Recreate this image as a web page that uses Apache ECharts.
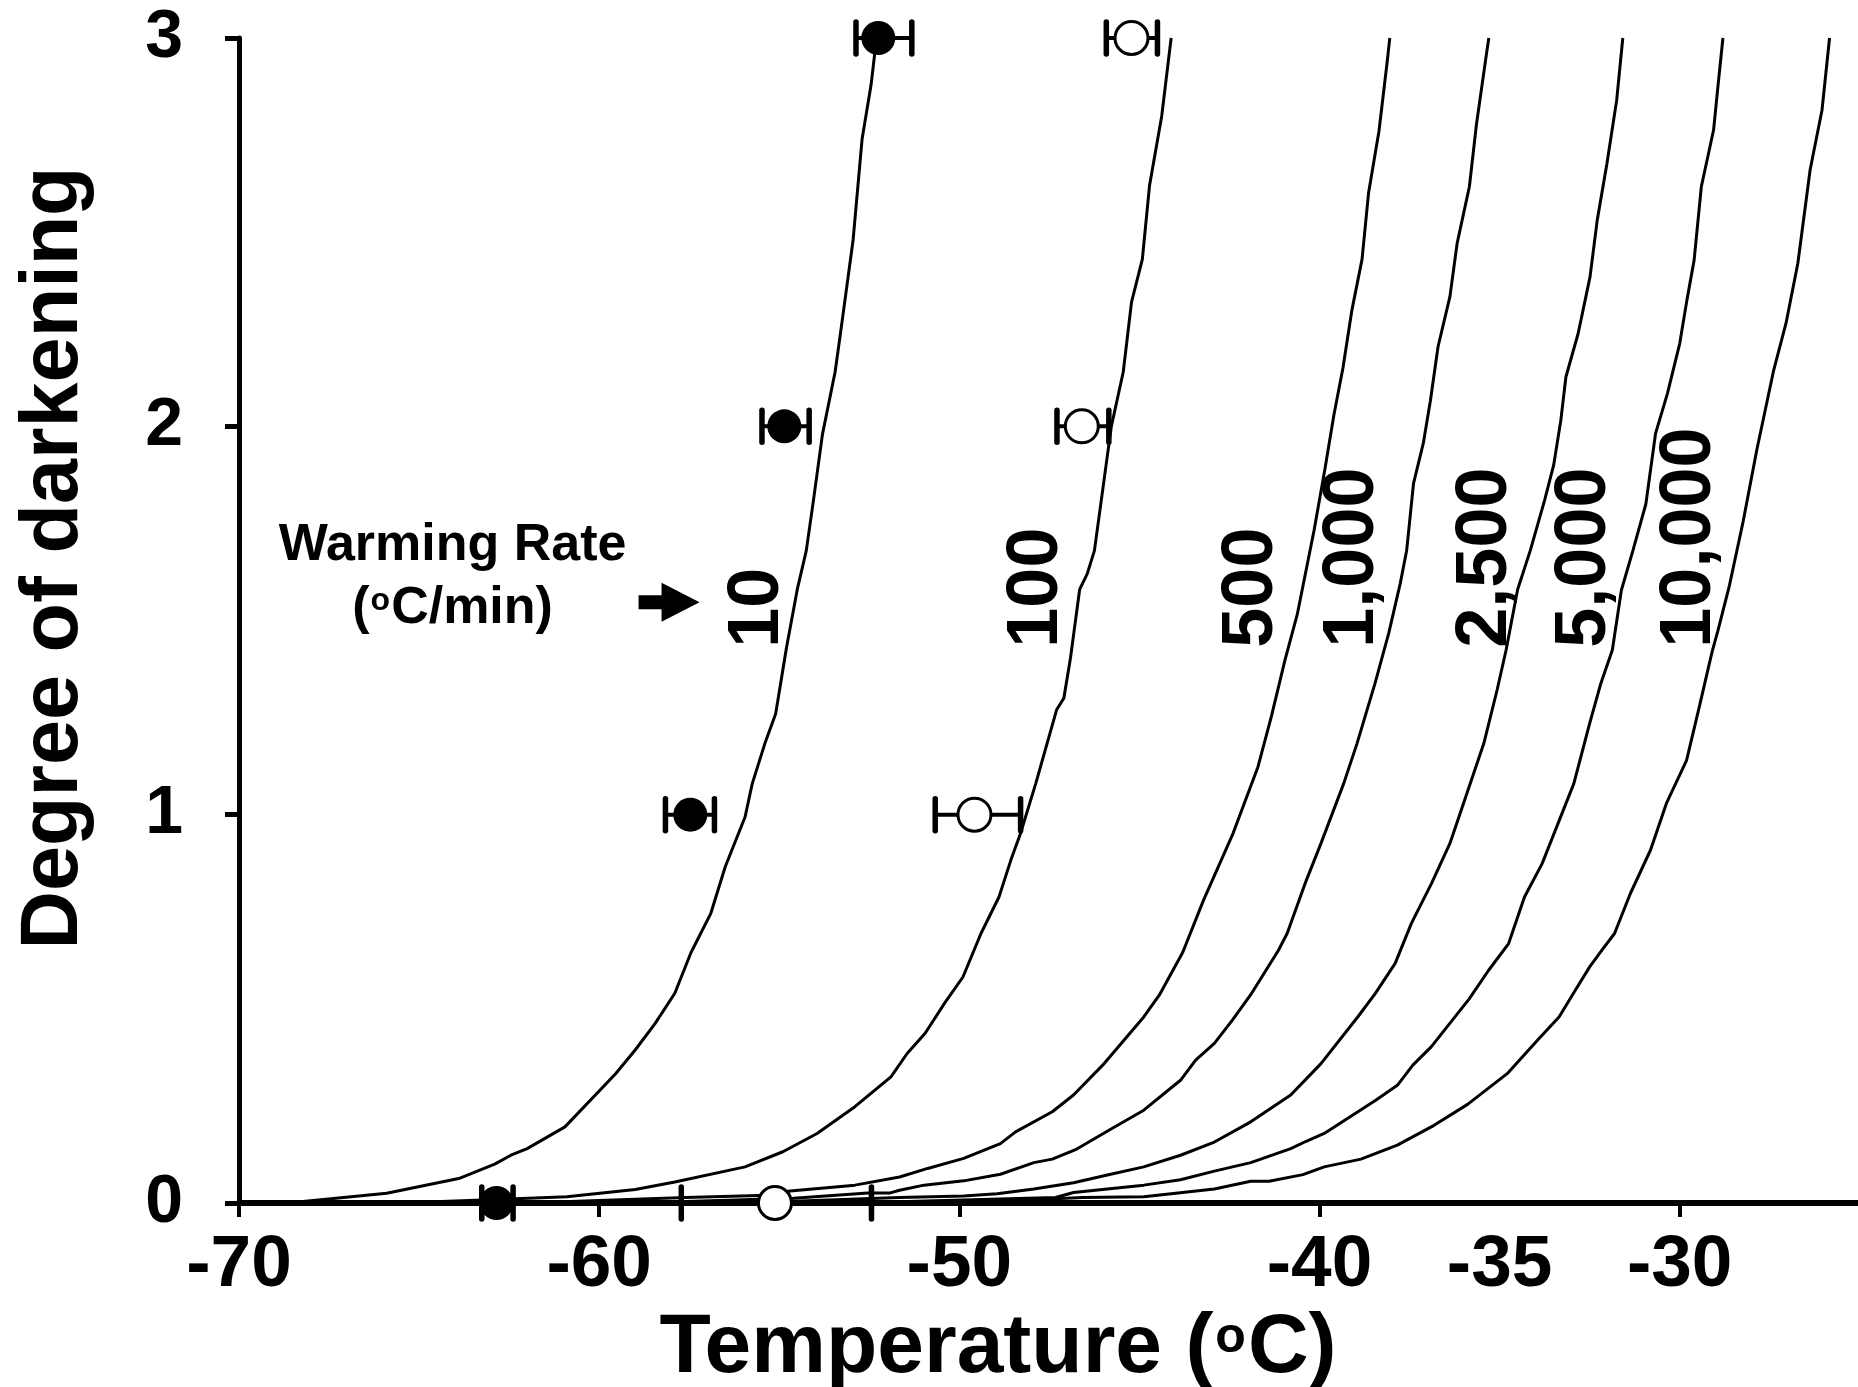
<!DOCTYPE html>
<html>
<head>
<meta charset="utf-8">
<script src="https://cdn.jsdelivr.net/npm/echarts@6/dist/echarts.min.js"></script>
<style>
  html, body { margin: 0; padding: 0; background: #fff; }
  #chart { width: 1858px; height: 1387px; }
</style>
</head>
<body>
<div id="chart"></div>
<script>
// warming rates (oC/min), one curve each
var rates = ['10', '100', '500', '1,000', '2,500', '5,000', '10,000'];

// modelled darkening curves, [temperature, degree]
var curve10 = [[-68.65,0],[-65.9,0.025],[-63.9,0.063],[-62.9,0.1],[-62.45,0.123],[-62.0,0.14],[-60.95,0.196],[-59.55,0.332],[-59.0,0.394],[-58.45,0.462],[-57.9,0.54],[-57.45,0.645],[-56.9,0.746],[-56.5,0.866],[-55.95,0.994],[-55.75,1.08],[-55.4,1.183],[-55.1,1.26],[-54.8,1.43],[-54.5,1.58],[-54.25,1.68],[-54.05,1.81],[-53.8,1.98],[-53.45,2.14],[-53.3,2.24],[-52.95,2.48],[-52.7,2.74],[-52.45,2.88],[-52.3,3.0]];
var curve100 = [[-65.5,0],[-62.5,0.01],[-60.9,0.016],[-59.0,0.035],[-57.9,0.054],[-55.95,0.093],[-54.9,0.132],[-53.95,0.179],[-52.9,0.248],[-51.9,0.325],[-51.45,0.385],[-50.95,0.437],[-50.4,0.516],[-49.9,0.582],[-49.4,0.694],[-48.9,0.788],[-48.57,0.883],[-48.3,0.952],[-47.88,1.08],[-47.3,1.27],[-47.1,1.3],[-46.92,1.4],[-46.66,1.58],[-46.45,1.62],[-46.25,1.68],[-46.0,1.85],[-45.78,2.0],[-45.45,2.14],[-45.22,2.32],[-44.92,2.43],[-44.72,2.62],[-44.38,2.8],[-44.12,3.0]];
var curve500 = [[-62,0],[-57.6,0.014],[-55.3,0.02],[-54.7,0.031],[-52.9,0.046],[-51.66,0.067],[-50.88,0.089],[-49.88,0.115],[-48.86,0.153],[-48.44,0.183],[-47.42,0.235],[-46.83,0.278],[-45.98,0.359],[-44.88,0.479],[-44.45,0.535],[-43.8,0.645],[-43.22,0.78],[-42.4,0.952],[-42.02,1.046],[-41.71,1.123],[-41.34,1.252],[-40.96,1.398],[-40.62,1.515],[-40.15,1.733],[-39.85,1.89],[-39.6,2.03],[-39.35,2.15],[-39.1,2.3],[-38.82,2.43],[-38.64,2.6],[-38.35,2.76],[-38.12,2.94],[-38.05,3.0]];
var curve1000 = [[-59,0],[-54.6,0.012],[-52.54,0.026],[-51.92,0.026],[-51.66,0.033],[-50.98,0.046],[-49.88,0.057],[-48.86,0.074],[-47.93,0.104],[-47.42,0.113],[-46.74,0.139],[-45.8,0.19],[-44.88,0.239],[-43.86,0.316],[-43.44,0.368],[-42.92,0.411],[-42.42,0.471],[-41.92,0.535],[-41.14,0.651],[-40.9,0.694],[-40.4,0.823],[-39.96,0.926],[-39.33,1.08],[-38.96,1.183],[-38.46,1.338],[-38.08,1.467],[-37.76,1.595],[-37.58,1.681],[-37.39,1.853],[-37.12,1.956],[-36.92,2.067],[-36.71,2.205],[-36.38,2.334],[-36.18,2.471],[-35.84,2.617],[-35.64,2.78],[-35.37,2.956],[-35.3,3.0]];
var curve2500 = [[-56,0],[-51.66,0.014],[-49.88,0.018],[-48.95,0.024],[-47.93,0.036],[-46.83,0.052],[-45.89,0.072],[-44.88,0.093],[-43.86,0.123],[-42.92,0.157],[-41.91,0.209],[-40.8,0.278],[-39.96,0.359],[-38.94,0.479],[-38.45,0.54],[-37.9,0.617],[-37.45,0.72],[-36.89,0.823],[-36.38,0.926],[-35.94,1.046],[-35.44,1.183],[-35.07,1.321],[-34.82,1.424],[-34.5,1.58],[-34.15,1.68],[-33.75,1.81],[-33.5,1.9],[-33.3,2.016],[-33.16,2.127],[-32.82,2.239],[-32.49,2.385],[-32.29,2.531],[-32.02,2.677],[-31.75,2.84],[-31.58,3.0]];
var curve5000 = [[-53,0],[-47.33,0.014],[-46.83,0.027],[-44.88,0.046],[-43.86,0.06],[-42.92,0.082],[-41.91,0.104],[-40.8,0.14],[-40.37,0.159],[-39.87,0.179],[-38.43,0.265],[-37.84,0.303],[-37.41,0.355],[-36.9,0.402],[-35.85,0.525],[-35.3,0.6],[-34.75,0.668],[-34.31,0.788],[-33.82,0.874],[-33.38,0.977],[-32.94,1.08],[-32.5,1.235],[-32.19,1.338],[-31.87,1.424],[-31.62,1.578],[-31.3,1.68],[-30.94,1.8],[-30.67,1.982],[-30.34,2.085],[-30.0,2.213],[-29.8,2.325],[-29.6,2.428],[-29.4,2.617],[-29.06,2.763],[-28.93,2.883],[-28.8,3.0]];
var curve10000 = [[-50,0],[-46.57,0.014],[-44.88,0.016],[-42.92,0.036],[-41.91,0.056],[-41.4,0.056],[-40.46,0.073],[-39.87,0.093],[-38.85,0.113],[-37.84,0.149],[-36.82,0.2],[-35.89,0.254],[-34.79,0.333],[-33.95,0.419],[-33.35,0.479],[-32.95,0.54],[-32.5,0.608],[-32.16,0.651],[-31.81,0.694],[-31.37,0.797],[-30.81,0.909],[-30.37,1.029],[-29.81,1.14],[-29.45,1.28],[-29.1,1.42],[-28.95,1.47],[-28.62,1.59],[-28.25,1.75],[-27.86,1.939],[-27.39,2.145],[-27.05,2.265],[-26.72,2.42],[-26.38,2.66],[-26.05,2.814],[-25.84,3.0]];
var curves = [curve10, curve100, curve500, curve1000, curve2500, curve5000, curve10000];

// measured points (filled = 10 oC/min, open = 100 oC/min) with horizontal error bars
var degrees = [0, 1, 2, 3];
var filledTemp = [-62.85, -57.47, -54.86, -52.25];
var filledLow = [-63.26, -58.16, -55.48, -52.87];
var filledHigh = [-62.39, -56.8, -54.17, -51.32];
var openTemp = [-55.12, -49.58, -46.6, -45.22];
var openLow = [-57.72, -50.67, -47.29, -45.92];
var openHigh = [-52.44, -48.3, -45.85, -44.5];

// axis ticks / labels
var xTicks = [-70, -60, -50, -40, -30];
var xLabels = [-70, -60, -50, -40, -35, -30];

// where the rate labels sit (data coords, bottom-centre of rotated text)
var rateLabelX = [-55.6, -47.85, -41.87, -39.06, -35.37, -32.62, -29.7];
var rateLabelY = 1.43;

var FONT = '"Liberation Sans", Arial, sans-serif';
var chart = echarts.init(document.getElementById('chart'));

var series = [];
curves.forEach(function (c, i) {
  series.push({
    name: rates[i],
    type: 'line',
    data: c,
    showSymbol: false,
    symbol: 'none',
    lineStyle: { color: '#000', width: 3 },
    z: 2,
    silent: true
  });
});

function errorBars(low, high, z) {
  return {
    type: 'custom',
    z: z,
    silent: true,
    clip: false,
    data: degrees.map(function (d, i) { return [low[i], high[i], d]; }),
    encode: { x: [0, 1], y: 2 },
    renderItem: function (params, api) {
      var a = api.coord([api.value(0), api.value(2)]);
      var b = api.coord([api.value(1), api.value(2)]);
      var h = 16;
      var st = { stroke: '#000', lineWidth: 4, lineCap: 'round' };
      var cap = { stroke: '#000', lineWidth: 5.5, lineCap: 'round' };
      return {
        type: 'group',
        children: [
          { type: 'line', shape: { x1: a[0], y1: a[1], x2: b[0], y2: b[1] }, style: st },
          { type: 'line', shape: { x1: a[0], y1: a[1] - h, x2: a[0], y2: a[1] + h }, style: cap },
          { type: 'line', shape: { x1: b[0], y1: b[1] - h, x2: b[0], y2: b[1] + h }, style: cap }
        ]
      };
    }
  };
}
series.push(errorBars(filledLow, filledHigh, 3));
series.push(errorBars(openLow, openHigh, 3));

series.push({
  type: 'scatter',
  z: 4,
  clip: false,
  silent: true,
  symbol: 'circle',
  symbolSize: 34,
  itemStyle: { color: '#000', opacity: 1 },
  data: degrees.map(function (d, i) { return [filledTemp[i], d]; })
});
series.push({
  type: 'scatter',
  z: 4,
  clip: false,
  silent: true,
  symbol: 'circle',
  symbolSize: 33,
  itemStyle: { color: '#fff', borderColor: '#000', borderWidth: 3, opacity: 1 },
  data: degrees.map(function (d, i) { return [openTemp[i], d]; })
});

// rate labels, rotated
series.push({
  type: 'scatter',
  z: 5,
  silent: true,
  symbolSize: 1,
  itemStyle: { color: 'rgba(0,0,0,0)', opacity: 1 },
  data: rates.map(function (r, i) { return { value: [rateLabelX[i], rateLabelY], name: r }; }),
  label: {
    show: true,
    position: 'inside',
    rotate: 90,
    align: 'left',
    verticalAlign: 'middle',
    formatter: function (p) { return p.name; },
    color: '#000',
    opacity: 1,
    fontFamily: FONT,
    fontWeight: 'bold',
    fontSize: 72
  }
});

// "Warming Rate (oC/min)" note with arrow
series.push({
  type: 'scatter',
  z: 5,
  silent: true,
  symbolSize: 1,
  itemStyle: { color: 'rgba(0,0,0,0)', opacity: 1 },
  data: [
    { value: [-64.07, 1.694], name: 'Warming Rate' },
    { value: [-64.07, 1.53], name: '{n|(}{s|o}{n|C/min)}' }
  ],
  label: {
    show: true,
    position: 'inside',
    align: 'center',
    verticalAlign: 'middle',
    formatter: function (p) { return p.name; },
    color: '#000',
    opacity: 1,
    fontFamily: FONT,
    fontWeight: 'bold',
    fontSize: 52,
    rich: {
      n: { fontFamily: FONT, fontWeight: 'bold', fontSize: 52, color: '#000', lineHeight: 56 },
      s: { fontFamily: FONT, fontWeight: 'bold', fontSize: 32, color: '#000', verticalAlign: 'top', lineHeight: 56, padding: [4, 1, 0, 1] }
    }
  }
});
series.push({
  type: 'scatter',
  z: 5,
  silent: true,
  symbol: 'path://M0,12.5 L23,12.5 L23,0 L61,19.5 L23,39 L23,26.5 L0,26.5 Z',
  symbolSize: [61, 39],
  itemStyle: { color: '#000', opacity: 1 },
  data: [[-58.06, 1.547]]
});

var option = {
  animation: false,
  backgroundColor: '#fff',
  grid: { left: 239, right: 0, top: 38, bottom: 184, containLabel: false },
  xAxis: {
    type: 'value',
    min: -70,
    max: -25.05,
    splitLine: { show: false },
    axisLine: { show: true, onZero: false, lineStyle: { color: '#000', width: 6 } },
    axisTick: { show: true, customValues: xTicks, length: 14, lineStyle: { color: '#000', width: 4 } },
    axisLabel: {
      customValues: xLabels,
      margin: 26,
      color: '#000',
      fontFamily: FONT,
      fontWeight: 'bold',
      fontSize: 73,
      formatter: function (v) { return String(v); }
    }
  },
  yAxis: {
    type: 'value',
    min: 0,
    max: 3,
    interval: 1,
    splitLine: { show: false },
    axisLine: { show: true, lineStyle: { color: '#000', width: 5 } },
    axisTick: { show: true, length: 14, lineStyle: { color: '#000', width: 5 } },
    axisLabel: {
      margin: 56,
      color: '#000',
      fontFamily: FONT,
      fontWeight: 'bold',
      fontSize: 68
    }
  },
  graphic: [
    {
      type: 'text',
      x: 998,
      y: 1349,
      style: {
        text: '{a|Temperature (}{b|o}{a|C)}',
        align: 'center',
        verticalAlign: 'middle',
        rich: {
          a: { fontFamily: FONT, fontWeight: 'bold', fontSize: 84, fill: '#000', lineHeight: 92 },
          b: { fontFamily: FONT, fontWeight: 'bold', fontSize: 50, fill: '#000', verticalAlign: 'top', lineHeight: 92, padding: [10, 2, 0, 2] }
        }
      }
    },
    {
      type: 'text',
      x: 55,
      y: 558,
      rotation: Math.PI / 2,
      style: {
        text: 'Degree of darkening',
        align: 'center',
        verticalAlign: 'middle',
        fontFamily: FONT,
        fontWeight: 'bold',
        fontSize: 81,
        fill: '#000'
      }
    }
  ],
  series: series
};

chart.setOption(option);
</script>
</body>
</html>
